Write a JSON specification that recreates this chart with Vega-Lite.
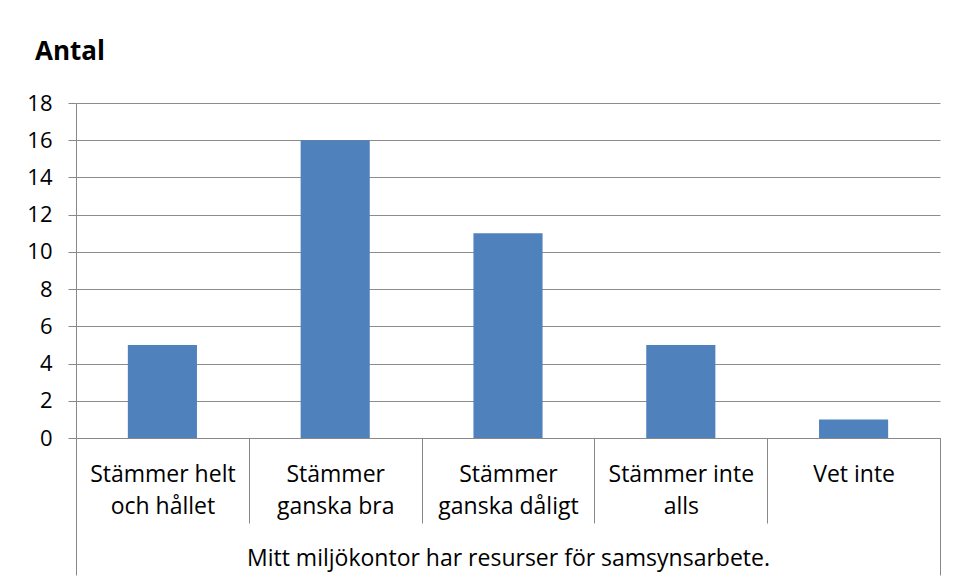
{
  "$schema": "https://vega.github.io/schema/vega-lite/v6.json",
  "autosize": "none",
  "width": 864,
  "height": 335,
  "padding": {"left": 76, "top": 103, "right": 21, "bottom": 142},
  "background": "white",
  "title": {"text": "Antal", "anchor": "start", "frame": "group", "fontSize": 26, "font": "Open Sans", "fontWeight": "bold", "color": "black", "dx": -41, "offset": 30, "dy": 24, "baseline": "alphabetic"},
  "config": {"view": {"stroke": null}, "font": "Open Sans"},
  "data": {"values": [
    {"kategori": "Stämmer helt|och hållet", "antal": 5},
    {"kategori": "Stämmer|ganska bra", "antal": 16},
    {"kategori": "Stämmer|ganska dåligt", "antal": 11},
    {"kategori": "Stämmer inte|alls", "antal": 5},
    {"kategori": "Vet inte", "antal": 1}
  ]},
  "layer": [
    {
      "mark": {"type": "bar", "color": "#4F81BD", "width": {"band": 0.4}},
      "encoding": {
        "x": {"field": "kategori", "type": "nominal", "sort": null,
          "scale": {"paddingInner": 0, "paddingOuter": 0},
          "axis": {"title": null, "labelAngle": 0, "labelExpr": "split(datum.label, '|')",
            "labelFontSize": 23, "labelColor": "black", "labelFont": "Open Sans", "labelLineHeight": 32,
            "labelPadding": -60, "labelBaseline": "top", "tickBand": "extent", "tickSize": 85,
            "tickColor": "#888888", "domainColor": "#888888", "labelLimit": 0}},
        "y": {"field": "antal", "type": "quantitative",
          "scale": {"domain": [0, 18]},
          "axis": {"title": null, "values": [0,2,4,6,8,10,12,14,16,18], "grid": true, "gridColor": "#8C8C8C",
            "tickSize": 8, "tickColor": "#888888", "domainColor": "#888888", "labelPadding": 16,
            "labelFontSize": 22, "labelColor": "black", "labelFont": "Open Sans"}}
      }
    },
    {
      "mark": {"type": "rule", "opacity": 0},
      "encoding": {
        "x": {"field": "kategori", "type": "nominal", "sort": null,
          "axis": {"orient": "bottom", "title": "Mitt miljökontor har resurser för samsynsarbete.", "labels": false, "domain": false,
            "values": ["Stämmer helt|och hållet", "Vet inte"], "tickBand": "extent", "tickSize": 137,
            "tickOpacity": {"condition": {"test": "datum.value === 'Stämmer helt|och hållet'", "value": 0}, "value": 1},
            "tickColor": "#888888", "titleFontSize": 23, "titleFontWeight": "normal", "titleColor": "black",
            "titleFont": "Open Sans", "titleY": 127, "titleBaseline": "alphabetic"}}
      }
    }
  ],
  "resolve": {"axis": {"x": "independent"}}
}
